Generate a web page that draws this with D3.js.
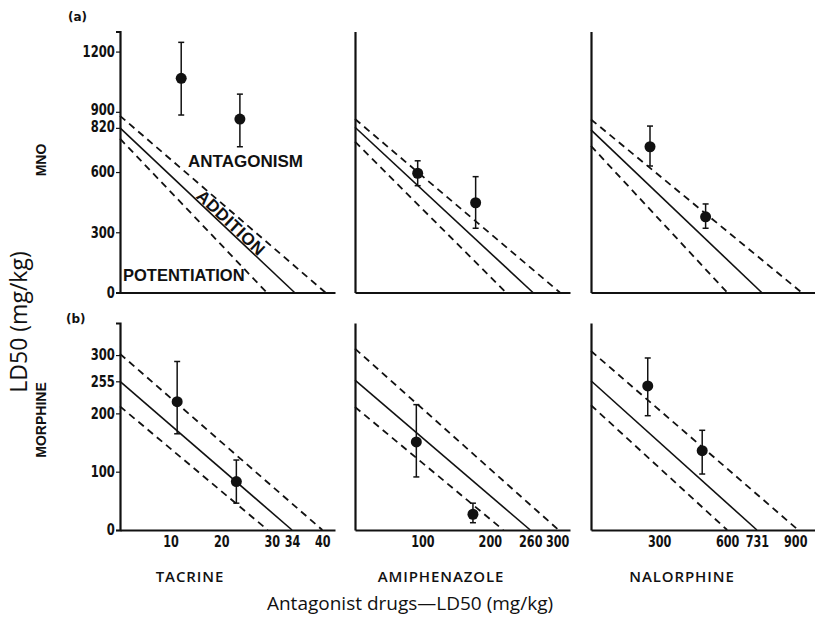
<!DOCTYPE html>
<html>
<head>
<meta charset="utf-8">
<script src="https://cdn.jsdelivr.net/npm/d3@7/dist/d3.min.js"></script>
<style>
  html, body { margin: 0; padding: 0; background: #fff; }
  svg { display: block; }
  .tick-lab { font-family: "DejaVu Sans Condensed", "DejaVu Sans", sans-serif; font-stretch: condensed; font-weight: bold; font-size: 15px; fill: #111; }
  .xtick-lab { font-family: "DejaVu Sans Condensed", "DejaVu Sans", sans-serif; font-stretch: condensed; font-weight: bold; font-size: 16px; fill: #111; }
  .region { font-family: "Liberation Sans", Arial, sans-serif; font-weight: bold; font-size: 16.5px; fill: #111; }
  .drug { font-family: "Open Sans", "Lato", sans-serif; font-weight: 600; font-size: 15px; fill: #111; letter-spacing: 0.9px; }
  .agon { font-family: "Liberation Sans", Arial, sans-serif; font-weight: bold; font-size: 14px; fill: #111; }
  .title { font-family: "Open Sans", "Lato", sans-serif; fill: #111; }
  .panel-tag { font-family: "DejaVu Sans", sans-serif; font-weight: bold; font-size: 12px; fill: #111; }
</style>
</head>
<body>
<svg id="chart" width="815" height="618"></svg>
<script>
// ---------------- DATA ----------------
const drugs = ["TACRINE", "AMIPHENAZOLE", "NALORPHINE"];
const agonists = ["MNO", "MORPHINE"];
const xMax = [42.5, 319, 987];
const xTicks = [[10, 20, 30, 34, 40], [100, 200, 260, 300], [300, 600, 731, 900]];
const mnoYMax = 1300;
const morYMax = 355;
const mnoYTicks = [0, 300, 600, 820, 900, 1200];
const morYTicks = [0, 100, 200, 255, 300];

// isobole lines: [y-intercept (agonist LD50), x-intercept (antagonist LD50)]
const mnoAdd   = [[820, 34.5], [823, 264], [810, 752]];
const mnoUpper = [[880, 40.6], [864, 304], [862, 928]];
const mnoLower = [[766, 29.0], [751, 224], [730, 600]];
const morAdd   = [[255, 34.0], [257, 260], [256, 731]];
const morUpper = [[302, 40.0], [311, 302], [307, 913]];
const morLower = [[212, 29.2], [211, 220], [214, 600]];

// observed points: [antagonist dose, LD50, lower limit, upper limit]
const mnoPoints = [
  [[12.1, 1067, 884, 1246], [23.7, 864, 726, 988]],
  [[93, 594, 532, 656], [179, 447, 320, 577]],
  [[260, 726, 630, 829], [505, 377, 320, 441]]
];
const morPoints = [
  [[11.3, 220, 165, 289], [23.0, 83, 46, 120]],
  [[91, 151, 91, 215], [175, 27, 12.5, 46]],
  [[250, 247, 196, 295], [490, 136, 96, 171]]
];

// ---------------- LAYOUT ----------------
const colX0 = [120, 355, 591];
const colX1 = [335, 570, 815];
const rows = [
  { y0: 292.5, y1: 31.5, max: mnoYMax, ticks: mnoYTicks, add: mnoAdd, up: mnoUpper, lo: mnoLower, pts: mnoPoints },
  { y0: 530, y1: 323, max: morYMax, ticks: morYTicks, add: morAdd, up: morUpper, lo: morLower, pts: morPoints }
];

const svg = d3.select("#chart");

rows.forEach((row, r) => {
  const y = d3.scaleLinear().domain([0, row.max]).range([row.y0, row.y1]);
  drugs.forEach((drug, c) => {
    const x = d3.scaleLinear().domain([0, xMax[c]]).range([colX0[c], colX1[c]]);
    const g = svg.append("g");

    // axes
    const yAxis = d3.axisLeft(y).tickValues(c === 0 ? row.ticks : []).tickSize(c === 0 ? 4 : 0).tickFormat(d3.format("d"));
    const gy = g.append("g").attr("transform", `translate(${colX0[c]},0)`).call(yAxis);
    gy.select(".domain").attr("stroke", "#111").attr("stroke-width", 2.2);
    gy.selectAll(".tick line").attr("stroke", "#111").attr("stroke-width", 1.2);
    gy.selectAll(".tick text").attr("class", "tick-lab").attr("x", -6).attr("transform", "scale(0.86,1)");
    if (c === 0 && r === 0) {
      gy.selectAll(".tick text").filter(d => d === 820).attr("dy", "0.22em");
      gy.selectAll(".tick text").filter(d => d === 900).attr("dy", "0.2em");
    }

    const xAxis = d3.axisBottom(x).tickValues(r === 1 ? xTicks[c] : []).tickSize(0).tickFormat(d3.format("d"));
    const gx = g.append("g").attr("transform", `translate(0,${row.y0})`).call(xAxis);
    gx.select(".domain").attr("stroke", "#111").attr("stroke-width", 2.2);
    gx.selectAll(".tick text").attr("class", "xtick-lab").attr("y", 6).attr("dy", "0.71em").attr("transform", "scale(0.78,1)");

    // isobole lines
    const line = d3.line().x(d => x(d[0])).y(d => y(d[1]));
    const seg = a => [[0, a[0]], [a[1], 0]];
    g.append("path").datum(seg(row.up[c])).attr("d", line)
      .attr("fill", "none").attr("stroke", "#111").attr("stroke-width", 1.8).attr("stroke-dasharray", "7,5");
    g.append("path").datum(seg(row.lo[c])).attr("d", line)
      .attr("fill", "none").attr("stroke", "#111").attr("stroke-width", 1.8).attr("stroke-dasharray", "7,5");
    g.append("path").datum(seg(row.add[c])).attr("d", line)
      .attr("fill", "none").attr("stroke", "#111").attr("stroke-width", 1.6);

    // error bars + points
    const pts = row.pts[c];
    g.selectAll(".eb").data(pts).enter().append("line")
      .attr("x1", d => x(d[0])).attr("x2", d => x(d[0]))
      .attr("y1", d => y(d[2])).attr("y2", d => y(d[3]))
      .attr("stroke", "#111").attr("stroke-width", 1.5);
    ["2", "3"].forEach(k => {
      g.selectAll(".cap" + k).data(pts).enter().append("line")
        .attr("x1", d => x(d[0]) - 3).attr("x2", d => x(d[0]) + 3)
        .attr("y1", d => y(d[+k])).attr("y2", d => y(d[+k]))
        .attr("stroke", "#111").attr("stroke-width", 1.5);
    });
    g.selectAll(".pt").data(pts).enter().append("circle")
      .attr("cx", d => x(d[0])).attr("cy", d => y(d[1])).attr("r", 5.5).attr("fill", "#111");

    // region labels in the first panel
    if (r === 0 && c === 0) {
      g.append("text").attr("class", "region").attr("x", 188).attr("y", 167).style("font-size", "17px").text("ANTAGONISM");
      g.append("text").attr("class", "region").attr("x", 123).attr("y", 281).text("POTENTIATION");
      const ang = Math.atan2(y(0) - y(row.add[c][0]), x(row.add[c][1]) - x(0)) * 180 / Math.PI;
      g.append("text").attr("class", "region").attr("text-anchor", "middle")
        .attr("transform", `translate(227,227) rotate(${ang})`).style("font-size", "17px").style("letter-spacing", "0.6px").text("ADDITION");
    }
  });
});

// drug names
const drugCx = [190, 441, 682];
svg.selectAll(".drug").data(drugs).enter().append("text")
  .attr("class", "drug").attr("text-anchor", "middle")
  .attr("x", (d, i) => drugCx[i]).attr("y", 582).text(d => d);

// agonist labels (rotated)
const agonCy = [160, 420];
svg.selectAll(".agon").data(agonists).enter().append("text")
  .attr("class", "agon").attr("text-anchor", "middle")
  .attr("transform", (d, i) => `translate(46,${agonCy[i]}) rotate(-90)`).text(d => d);

// panel tags
svg.append("text").attr("class", "panel-tag").attr("x", 68).attr("y", 21).text("(a)");
svg.append("text").attr("class", "panel-tag").attr("x", 66).attr("y", 323).text("(b)");

// axis titles
svg.append("text").attr("class", "title").attr("text-anchor", "middle")
  .attr("transform", "translate(27,322) rotate(-90)").style("font-size", "23px").text("LD50 (mg/kg)");
svg.append("text").attr("class", "title").attr("text-anchor", "middle")
  .attr("x", 410).attr("y", 610).style("font-size", "19px").text("Antagonist drugs—LD50 (mg/kg)");
</script>
</body>
</html>
